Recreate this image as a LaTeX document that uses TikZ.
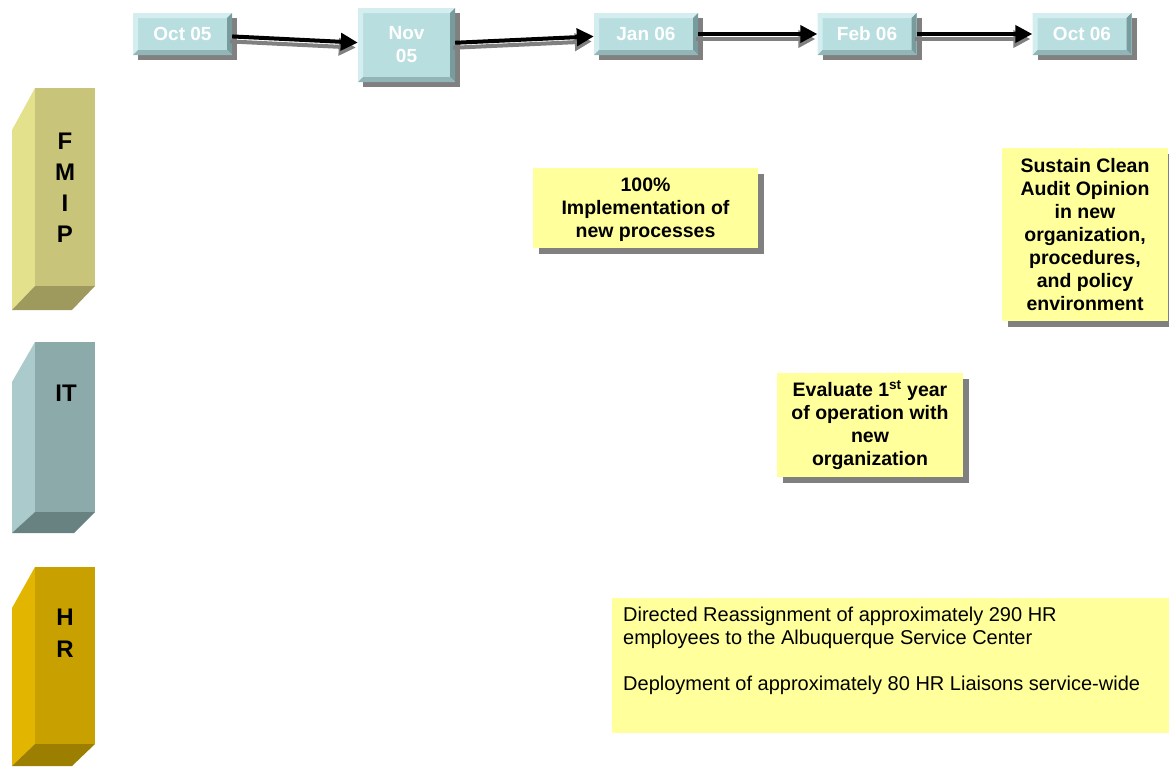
\documentclass[tikz,border=0pt]{standalone}
\usepackage{fontspec}
\setmainfont{Liberation Sans}
\usetikzlibrary{positioning,shadows,arrows.meta}

\definecolor{dateface}{RGB}{185,222,224}
\definecolor{datelight}{RGB}{212,238,240}
\definecolor{datemid}{RGB}{146,182,184}
\definecolor{datedark}{RGB}{120,156,158}
\definecolor{noteyellow}{RGB}{255,255,155}
\definecolor{shadowgray}{RGB}{128,128,128}
\definecolor{fmipfront}{RGB}{200,196,122}
\definecolor{fmipside}{RGB}{228,225,140}
\definecolor{fmipbase}{RGB}{158,154,94}
\definecolor{itfront}{RGB}{140,170,170}
\definecolor{itside}{RGB}{170,202,204}
\definecolor{itbase}{RGB}{104,130,130}
\definecolor{hrfront}{RGB}{200,160,0}
\definecolor{hrside}{RGB}{226,182,0}
\definecolor{hrbase}{RGB}{156,126,0}

\newcommand\ppbb{path picture bounding box}

\tikzset{
	datebox/.style = {
		fill=dateface, text=white, align=center, inner sep=0pt,
		font=\bfseries\fontsize{19}{23}\selectfont,
		minimum width=99pt, minimum height=42pt,
		drop shadow={shadow xshift=5pt, shadow yshift=-5pt, fill=shadowgray, opacity=1},
		path picture={
			\fill[datelight] (\ppbb.south west) -- (\ppbb.north west) -- (\ppbb.north east)
				-- ([shift={(-5pt,-5pt)}]\ppbb.north east) -- ([shift={(5pt,-5pt)}]\ppbb.north west)
				-- ([shift={(5pt,5pt)}]\ppbb.south west) -- cycle;
			\fill[datedark] (\ppbb.north east) -- (\ppbb.south east)
				-- ([shift={(-5pt,5pt)}]\ppbb.south east) -- ([shift={(-5pt,-5pt)}]\ppbb.north east) -- cycle;
			\fill[datemid] (\ppbb.south west) -- (\ppbb.south east)
				-- ([shift={(-5pt,5pt)}]\ppbb.south east) -- ([shift={(5pt,5pt)}]\ppbb.south west) -- cycle;
		}
	},
	notebox/.style = {
		fill=noteyellow, align=center, inner sep=0pt,
		font=\bfseries\fontsize{19.5}{23}\selectfont,
		drop shadow={shadow xshift=6pt, shadow yshift=-6pt, fill=shadowgray, opacity=1}
	},
	hrbox/.style = {
		fill=noteyellow, inner xsep=11pt, inner ysep=9pt,
		font=\fontsize{20}{23}\selectfont
	},
	pillarlabel/.style = {
		align=center, inner sep=0pt,
		font=\bfseries\fontsize{24}{31}\selectfont
	},
	timeline/.style = {line width=4pt, -{Triangle[length=17pt, width=17pt]}}
}

\begin{document}
\begin{tikzpicture}[x=1pt, y=-1pt]
	\useasboundingbox (0,0) rectangle (1169,766);

	% pillars
	\fill[fmipside] (12,130) -- (35,88) -- (35,286) -- (12,310) -- cycle;
	\fill[fmipfront] (35,88) rectangle (95,286);
	\fill[fmipbase] (35,286) -- (95,286) -- (72,310) -- (12,310) -- cycle;
	\fill[itside] (12,382) -- (35,342) -- (35,512) -- (12,533) -- cycle;
	\fill[itfront] (35,342) rectangle (95,512);
	\fill[itbase] (35,512) -- (95,512) -- (74,533) -- (12,533) -- cycle;
	\fill[hrside] (12,608) -- (35,567) -- (35,744) -- (12,766) -- cycle;
	\fill[hrfront] (35,567) rectangle (95,744);
	\fill[hrbase] (35,744) -- (95,744) -- (72,766) -- (12,766) -- cycle;

	\node[pillarlabel] (fmip) at (65,188) {F\\M\\I\\P};
	\node[pillarlabel] (it)   at (66,393) {IT};
	\node[pillarlabel] (hr)   at (65,633) {H\\[1pt]R};

	% timeline
	\node[datebox] (oct05) at (182.5,34) {Oct 05};
	\node[datebox, minimum width=97pt, minimum height=74pt] (nov05) at (406.5,45) {Nov\\05};
	\node[datebox, minimum width=104pt] (jan06) at (646,34) {Jan 06};
	\node[datebox] (feb06) at (867,34) {Feb 06};
	\node[datebox] (oct06) at (1082,34) {Oct 06};

	\foreach \a/\b in {oct05/nov05, nov05/jan06, jan06/feb06, feb06/oct06}{
		\draw[timeline, shadowgray, transform canvas={shift={(-2pt,-5pt)}}] (\a) -- (\b);
		\draw[timeline] (\a) -- (\b);
	}

	% milestones
	\node[notebox, minimum width=225pt, minimum height=80pt] (implement) at (645.5,208)
		{\\[-5pt]100\%\\Implementation of\\new processes};
	\node[notebox, minimum width=166pt, minimum height=173pt] (audit) at (1085,234.5)
		{Sustain Clean\\Audit Opinion\\in new\\organization,\\procedures,\\and policy\\environment};
	\node[notebox, minimum width=186pt, minimum height=104pt] (evaluate) at (870,425)
		{Evaluate 1\textsuperscript{st} year\\of operation with\\new\\organization};
	\node[hrbox, anchor=north west] (reassign) at (612,598)
		{\parbox[t][117pt][t]{540pt}{\raggedright Directed Reassignment of approximately 290 HR\\
		employees to the Albuquerque Service Center\\[23pt]
		Deployment of approximately 80 HR Liaisons service-wide}};
\end{tikzpicture}
\end{document}
